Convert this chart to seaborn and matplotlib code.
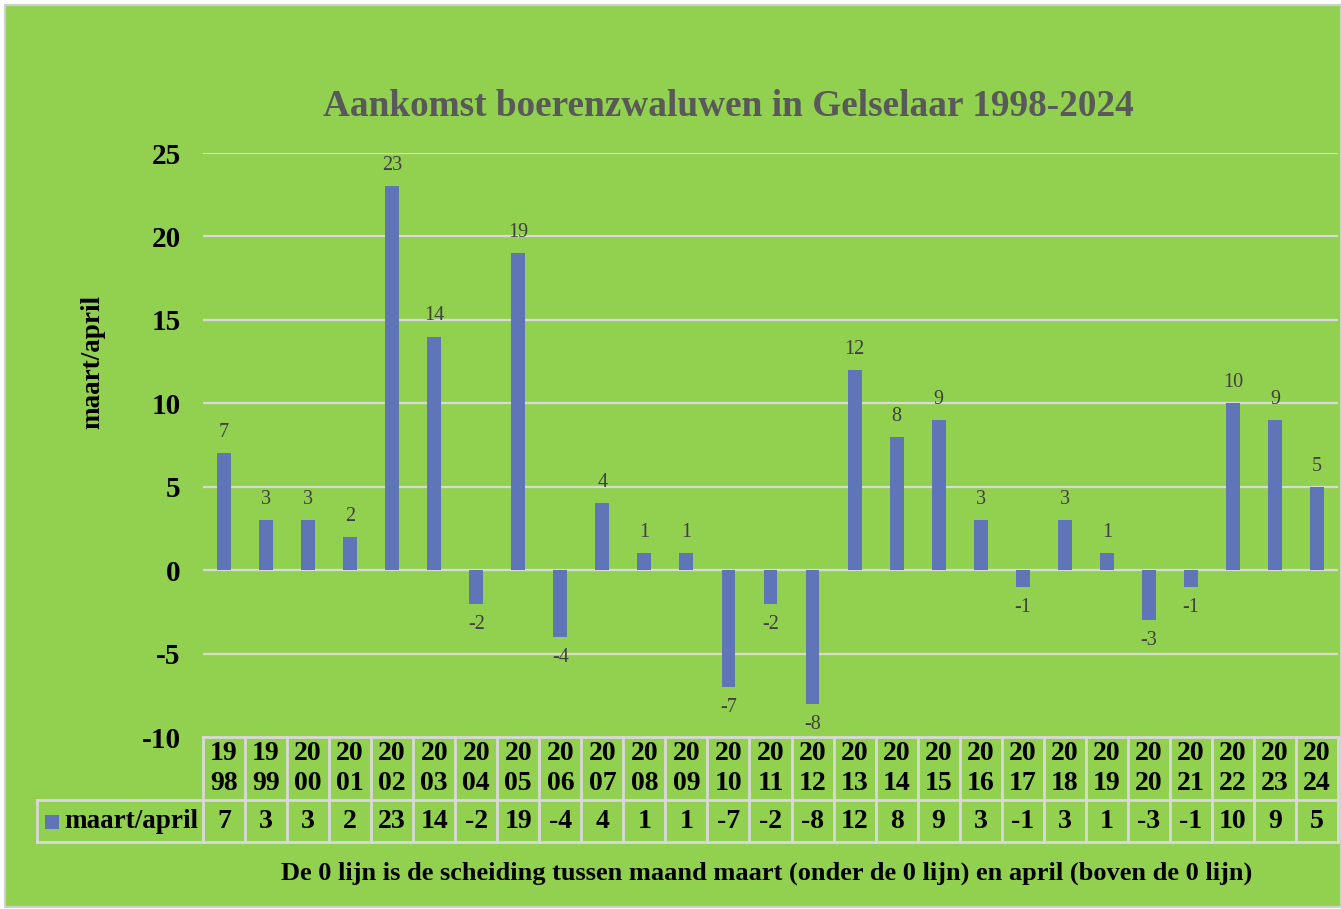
import numpy as np
import pandas as pd
import matplotlib
matplotlib.use("Agg")
import matplotlib.pyplot as plt
from matplotlib.patches import Rectangle
import seaborn as sns

years = [str(y) for y in range(1998, 2025)]
values = [7, 3, 3, 2, 23, 14, -2, 19, -4, 4, 1, 1, -7, -2, -8, 12, 8, 9, 3, -1, 3, 1, -3, -1, 10, 9, 5]
series_name = "maart/april"
title = "Aankomst boerenzwaluwen in Gelselaar 1998-2024"
note = "De 0 lijn is de scheiding tussen maand maart (onder de 0 lijn) en april (boven de 0 lijn)"

green = "#92D050"
bar_col = "#6074B8"
grid_col = "#D9D9D9"

plt.rcParams['font.family'] = ['Liberation Serif', 'DejaVu Serif']
plt.rcParams['axes.unicode_minus'] = False

W, H = 1341, 909
fig = plt.figure(figsize=(W / 100, H / 100), dpi=100)
fig.patch.set_facecolor("white")
fig.patches.append(Rectangle((5 / W, 2 / H), 1 - 5 / W, 1 - 7 / H, transform=fig.transFigure,
                             facecolor=green, edgecolor="#D0D0D0", lw=1.5, zorder=-5))

ax = fig.add_axes([203 / W, 1 - 737 / H, (1338 - 203) / W, (737 - 153) / H])
ax.set_facecolor("none")

df = pd.DataFrame({"year": years, "val": values})
sns.barplot(data=df, x="year", y="val", color=bar_col, width=0.33, saturation=1, ax=ax, zorder=3)
ax.bar_label(ax.containers[0], padding=8, fontsize=14.5, color="#404040")

ax.set_xlim(-0.5, len(years) - 0.5)
ax.set_ylim(-10, 25)
ax.set_yticks(range(-10, 30, 5))
for y in range(-5, 30, 5):
    ax.axhline(y, color=grid_col, lw=1.6, zorder=1)
for s in ax.spines.values():
    s.set_visible(False)
ax.tick_params(axis="y", length=0, pad=16, labelsize=21)
ax.tick_params(axis="x", length=0, labelbottom=False)
for t in ax.get_yticklabels():
    t.set_fontweight("bold")
ax.set_xlabel("")
ax.set_ylabel("")
fig.text(93 / W, 1 - 362 / H, series_name, rotation=90, ha="center", va="center",
         fontsize=19.5, fontweight="bold")

# data table under the chart
tr = ax.get_xaxis_transform()
def fy(py):
    return (737 - py) / (737 - 153)
r0, r1, r2 = fy(737), fy(800), fy(842)
xl = -0.5 - (203 - 37) / 42.04
lkw = dict(color=grid_col, lw=2, transform=tr, clip_on=False, zorder=4)
ax.plot([-0.5, len(years) - 0.5], [r0, r0], **lkw)
ax.plot([xl, len(years) - 0.5], [r1, r1], **lkw)
ax.plot([xl, len(years) - 0.5], [r2, r2], **lkw)
ax.plot([xl, xl], [r1, r2], **lkw)
for i in range(len(years) + 1):
    ax.plot([i - 0.5, i - 0.5], [r0, r2], **lkw)
for i, (yr, v) in enumerate(zip(years, values)):
    ax.text(i, (r0 + r1) / 2, yr[:2] + "\n" + yr[2:], transform=tr, ha="center", va="center",
            fontsize=20, fontweight="bold", linespacing=1.3, clip_on=False)
    ax.text(i, (r1 + r2) / 2, str(v), transform=tr, ha="center", va="center",
            fontsize=20, fontweight="bold", clip_on=False)
fig.patches.append(Rectangle((45 / W, 1 - 829 / H), 14 / W, 14 / H, transform=fig.transFigure,
                             facecolor=bar_col, edgecolor="none", zorder=5))
fig.text(64 / W, 1 - 822 / H, series_name, ha="left", va="center", fontsize=19.5, fontweight="bold")

fig.text(728 / W, 1 - 107 / H, title, ha="center", va="center", fontsize=26.8, fontweight="bold", color="#595959")
fig.text(767 / W, 1 - 873 / H, note, ha="center", va="center", fontsize=19, fontweight="bold")

fig.savefig("out.png", dpi=100, facecolor=fig.get_facecolor())
